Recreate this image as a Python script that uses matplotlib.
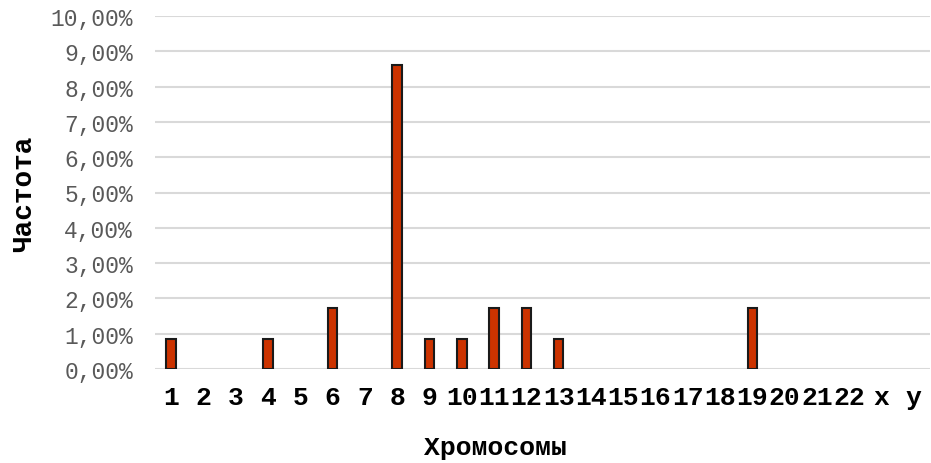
import matplotlib
matplotlib.use("Agg")
import matplotlib.pyplot as plt
from matplotlib.ticker import FuncFormatter, MultipleLocator

# Chromosomes and share of cases with an aberration on each (n = 116)
chromosomes = ["1", "2", "3", "4", "5", "6", "7", "8", "9", "10", "11", "12",
               "13", "14", "15", "16", "17", "18", "19", "20", "21", "22", "х", "у"]
frequency = [0.862, 0, 0, 0.862, 0, 1.724, 0, 8.621, 0.862, 0.862, 1.724, 1.724,
             0.862, 0, 0, 0, 0, 0, 1.724, 0, 0, 0, 0, 0]

plt.rcParams["font.family"] = ["Liberation Mono", "DejaVu Sans Mono"]

fig = plt.figure(figsize=(9.31, 4.64), dpi=100)
ax = fig.add_axes([155 / 931, 94 / 464, 775 / 931, 353 / 464])

x = list(range(len(chromosomes)))
# empty categories get no outline so no stub appears on the baseline
edge_widths = [1.5 if v > 0 else 0 for v in frequency]
ax.bar(x, frequency, width=0.3, color="#CC3300", edgecolor="#1a1a1a",
       linewidth=edge_widths, zorder=3)

ax.set_xlim(-0.5, len(chromosomes) - 0.5)
ax.set_ylim(0, 10)
ax.yaxis.set_major_locator(MultipleLocator(1))
ax.yaxis.set_major_formatter(FuncFormatter(lambda v, _: f"{v:.2f}%".replace(".", ",")))
ax.grid(axis="y", color="#d9d9d9", linewidth=1.5, zorder=0)
ax.set_axisbelow(True)

for s in ax.spines.values():
    s.set_visible(False)

ax.set_xticks(x)
ax.set_xticklabels(chromosomes, fontsize=19, fontweight="bold", color="#000000")
ax.tick_params(axis="x", length=0, pad=11.5)
ax.tick_params(axis="y", length=0, pad=15.8, labelsize=16.5, labelcolor="#595959")

ax.set_xlabel("Хромосомы", fontsize=19, fontweight="bold", labelpad=19, x=0.439)
ax.set_ylabel("Частота", fontsize=20, fontweight="bold", labelpad=10)

fig.savefig("out.png", dpi=100)
